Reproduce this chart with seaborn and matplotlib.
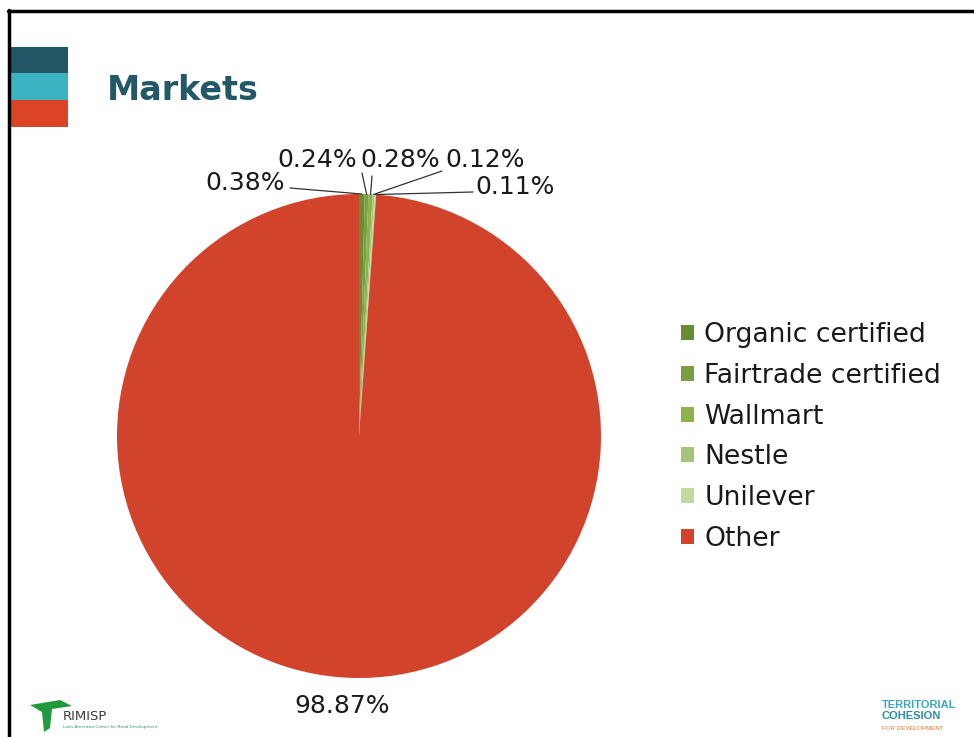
import numpy as np
import seaborn as sns
import matplotlib.pyplot as plt
from matplotlib.patches import Rectangle, Patch, Polygon
from matplotlib.lines import Line2D

# chart data
categories = ['Organic certified', 'Fairtrade certified', 'Wallmart', 'Nestle', 'Unilever', 'Other']
shares = [0.38, 0.24, 0.28, 0.12, 0.11, 98.87]
pct_labels = ['0.38%', '0.24%', '0.28%', '0.12%', '0.11%', '98.87%']
colors = ['#6a8c34', '#7c9d41', '#8fb34b', '#a5c47b', '#c3d9a0', '#d2432c']

sns.set_theme(style='white')
plt.rcParams['font.family'] = ['DejaVu Sans']

W, H = 974, 737
fig = plt.figure(figsize=(W / 100, H / 100), dpi=100)
fig.patch.set_facecolor('white')


def fx(px):
    return px / W


def fy(py):
    return 1 - py / H


# slide frame
fig.add_artist(Line2D([fx(8), fx(974)], [fy(11), fy(11)], color='black', lw=2.5))
fig.add_artist(Line2D([fx(9), fx(9)], [fy(10), fy(737)], color='black', lw=2.5))

# colour bars at top-left
for top, bottom, c in [(47, 73, '#235665'), (73, 100, '#3bb3c3'), (100, 127, '#dc4426')]:
    fig.add_artist(Rectangle((fx(10), fy(bottom)), fx(68) - fx(10), fy(top) - fy(bottom),
                             transform=fig.transFigure, color=c, lw=0))

fig.text(fx(107), fy(91), 'Markets', fontsize=24, fontweight='bold', color='#235866',
         ha='left', va='center')

# pie
cx, cy, R = 359, 436, 242
ax = fig.add_axes([fx(cx - R), fy(cy + R), 2 * R / W, 2 * R / H])
wedges, _ = ax.pie(shares, colors=colors, startangle=90, counterclock=False,
                   wedgeprops=dict(linewidth=0))
ax.set_xlim(-1, 1)
ax.set_ylim(-1, 1)
ax.set_aspect('auto')
ax.axis('off')


def to_data(px, py):
    return (px - cx) / R, (cy - py) / R


# label positions (text centre) and leader start points, in pixels
text_pos = [(245, 183), (317, 160), (400, 160), (485, 160), (515, 187), (342, 706)]
line_start = [(290, 188), (362, 173), (372, 176), (442, 171), (473, 192), None]

cum = np.cumsum([0] + shares[:-1])
for i, lab in enumerate(pct_labels):
    tx, ty = to_data(*text_pos[i])
    ax.text(tx, ty, lab, fontsize=18, color='#1a1a1a', ha='center', va='center', clip_on=False)
    if line_start[i] is not None:
        mid = (cum[i] + shares[i] / 2) / 100 * 2 * np.pi
        ex, ey = np.sin(mid), np.cos(mid)
        sx, sy = to_data(*line_start[i])
        ax.plot([sx, ex], [sy, ey], color='#333333', lw=0.9, clip_on=False)

# legend
handles = [Patch(facecolor=c, edgecolor='none') for c in colors]
fig.legend(handles, categories, loc='center left', bbox_to_anchor=(fx(681), fy(437)),
           frameon=False, fontsize=19.2, handlelength=0.48, handleheight=0.48,
           handletextpad=0.4, labelspacing=0.55, borderaxespad=0, borderpad=0,
           labelcolor='#1a1a1a')

# logos
fig.add_artist(Polygon([[fx(30), fy(705)], [fx(60), fy(700)], [fx(72), fy(706)], [fx(52), fy(709)],
                        [fx(50), fy(728)], [fx(44), fy(732)], [fx(42), fy(712)]],
                       closed=True, transform=fig.transFigure, color='#1f9a3c', lw=0))
fig.text(fx(63), fy(716), 'RIMISP', fontsize=9.5, color='#3a3a3a', ha='left', va='center')
fig.text(fx(63), fy(727), 'Latin American Center for Rural Development', fontsize=3,
         color='#2a9a4a', ha='left', va='center')
fig.text(fx(882), fy(705), 'TERRITORIAL', fontsize=8, fontweight='bold', color='#3aa7c3',
         ha='left', va='center', family='Liberation Sans')
fig.text(fx(882), fy(716), 'COHESION', fontsize=8, fontweight='bold', color='#2b8ea6',
         ha='left', va='center', family='Liberation Sans')
fig.text(fx(882), fy(728), 'FOR DEVELOPMENT', fontsize=4.5, color='#e8773f', ha='left', va='center',
         family='Liberation Sans')

fig.savefig('out.png', dpi=100, facecolor='white')
